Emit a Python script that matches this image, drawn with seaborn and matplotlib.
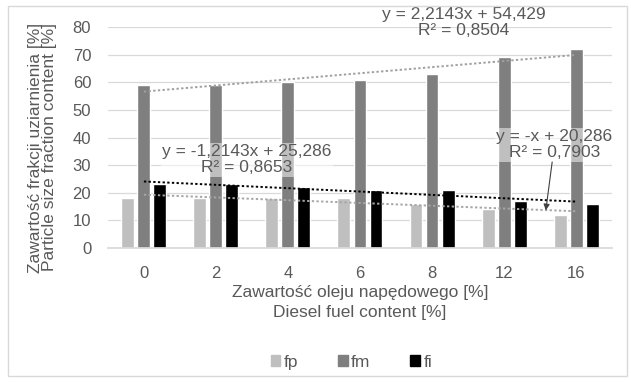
import numpy as np
import pandas as pd
import matplotlib
matplotlib.use("Agg")
import matplotlib.pyplot as plt
from matplotlib.patches import Rectangle
import seaborn as sns

# Diesel fuel content categories and fraction contents [%]
categories = ["0", "2", "4", "6", "8", "12", "16"]
fp = [18, 18, 18, 18, 16, 14, 12]
fm = [59, 59, 60, 61, 63, 69, 72]
fi = [23, 23, 22, 21, 21, 17, 16]
series_names = ["fp", "fm", "fi"]
colors = {"fp": "#bfbfbf", "fm": "#7f7f7f", "fi": "#000000"}
trend_colors = {"fp": "#a6a6a6", "fm": "#a0a0a0", "fi": "#000000"}

sns.set_theme(style="white")
plt.rcParams["font.family"] = ["Liberation Sans", "DejaVu Sans"]
plt.rcParams["text.color"] = "#595959"

LABEL_FS = 12.5
EQ_FS = 12.5

df = pd.DataFrame({
    "cat": categories * 3,
    "series": [s for s in series_names for _ in categories],
    "value": fp + fm + fi,
})

fig = plt.figure(figsize=(6.31, 3.82), dpi=100)
ax = fig.add_axes([0.171, 0.351, 0.799, 0.578])

sns.barplot(data=df, x="cat", y="value", hue="series", palette=colors,
            width=0.667, gap=0.19, ax=ax, legend=False, saturation=1)

# Linear trendlines (fit against category position 1..n)
xs = np.arange(1, len(categories) + 1)
for name, vals in zip(series_names, [fp, fm, fi]):
    k, b = np.polyfit(xs, vals, 1)
    trend = pd.DataFrame({"pos": np.arange(len(categories)), "y": k * xs + b})
    sns.lineplot(data=trend, x="pos", y="y", ax=ax, color=trend_colors[name],
                 linestyle=(0, (1.2, 1.2)), linewidth=1.4, zorder=5)

ax.set_ylim(0, 80)
ax.set_xlim(-0.5, len(categories) - 0.5)
ax.set_yticks(range(0, 81, 10))
ax.yaxis.grid(True, color="#d9d9d9", linewidth=0.9)
ax.set_axisbelow(True)
for s in ["top", "right", "left"]:
    ax.spines[s].set_visible(False)
ax.spines["bottom"].set_color("#d9d9d9")
ax.tick_params(axis="both", length=0, labelsize=12, colors="#595959")
ax.tick_params(axis="y", pad=12)
ax.tick_params(axis="x", pad=13)

ax.set_xlabel("Zawartość oleju napędowego [%]\nDiesel fuel content [%]",
              fontsize=LABEL_FS, color="#595959", linespacing=1.35)
ax.xaxis.set_label_coords(0.5, -0.17)
ax.set_ylabel("Zawartość frakcji uziarnienia [%]\nParticle size fraction content [%]",
              fontsize=LABEL_FS, color="#595959", linespacing=0.95)
ax.yaxis.set_label_coords(-0.10, 0.455)

# Trendline equations
ax.text(4.44, 81.7, "y = 2,2143x + 54,429\nR² = 0,8504", ha="center", va="center",
        fontsize=EQ_FS, color="#595959", clip_on=False, linespacing=1.1)
ax.text(1.43, 32, "y = -1,2143x + 25,286\nR² = 0,8653", ha="center", va="center",
        fontsize=EQ_FS, color="#595959", linespacing=1.1, zorder=6,
        bbox=dict(facecolor="white", alpha=0.5, edgecolor="none", pad=1))
ax.annotate("y = -x + 20,286\nR² = 0,7903", xy=(5.58, 13.6), xytext=(5.7, 37.4),
            ha="center", va="center", fontsize=EQ_FS, color="#595959",
            linespacing=1.1, zorder=6,
            bbox=dict(facecolor="white", alpha=0.5, edgecolor="none", pad=1),
            arrowprops=dict(arrowstyle="-|>", color="#404040", lw=0.8,
                            shrinkA=0, shrinkB=0, mutation_scale=9))

handles = [Rectangle((0, 0), 1, 1, color=colors[n]) for n in series_names]
fig.legend(handles, series_names, loc="center", bbox_to_anchor=(0.557, 0.052),
           ncol=3, frameon=False, handlelength=0.55, handleheight=0.55,
           handletextpad=0.2, columnspacing=2.3, fontsize=EQ_FS)

fig.patches.append(Rectangle((0.012, 0.015), 0.982, 0.97, transform=fig.transFigure,
                             fill=False, edgecolor="#d9d9d9", linewidth=1))

fig.savefig("out.png", dpi=100)
